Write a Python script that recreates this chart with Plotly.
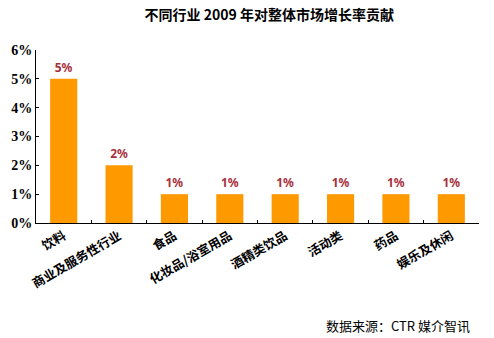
import plotly.graph_objects as go

categories = ["饮料", "商业及服务性行业", "食品", "化妆品/浴室用品", "酒精类饮品", "活动类", "药品", "娱乐及休闲"]
values = [5, 2, 1, 1, 1, 1, 1, 1]
labels = ["5%", "2%", "1%", "1%", "1%", "1%", "1%", "1%"]
yticks = [0, 1, 2, 3, 4, 5, 6]
ytick_labels = ["0%", "1%", "2%", "3%", "4%", "5%", "6%"]

fig = go.Figure(go.Bar(
    x=categories, y=values, text=labels, textposition="outside",
    marker=dict(color="#FF9900", line=dict(width=0)),
    width=0.49,
    textfont=dict(color="#A8303C", size=12, family="Noto Sans", weight="bold"),
    cliponaxis=False,
))

fig.update_layout(
    width=494, height=338,
    margin=dict(l=36, r=15, t=50, b=115),
    paper_bgcolor="white", plot_bgcolor="white",
    showlegend=False,
    title=dict(text="不同行业 2009 年对整体市场增长率贡献", x=0.545, xanchor="center",
               y=0.955, yanchor="middle",
               font=dict(family="Noto Sans CJK SC", size=14, color="black", weight="bold")),
    xaxis=dict(showline=True, linecolor="black", linewidth=1, tickangle=-30,
               ticks="inside", tickson="boundaries", ticklen=3, tickcolor="black",
               showgrid=False,
               tickfont=dict(family="Noto Sans CJK SC", size=12.5, color="black", weight="bold")),
    yaxis=dict(range=[0, 6], tickvals=yticks, ticktext=ytick_labels, showline=True,
               linecolor="black", linewidth=1, ticks="inside", ticklen=3, tickcolor="black",
               showgrid=False,
               tickfont=dict(family="Times New Roman, Liberation Serif, serif", size=14,
                             color="black", weight="bold")),
    annotations=[dict(text="数据来源：CTR 媒介智讯", xref="paper", yref="paper",
                      x=0.985, y=-0.595, xanchor="right", yanchor="middle", showarrow=False,
                      font=dict(family="Noto Sans CJK SC", size=13, color="black"))],
)

fig.write_html("out.html")
